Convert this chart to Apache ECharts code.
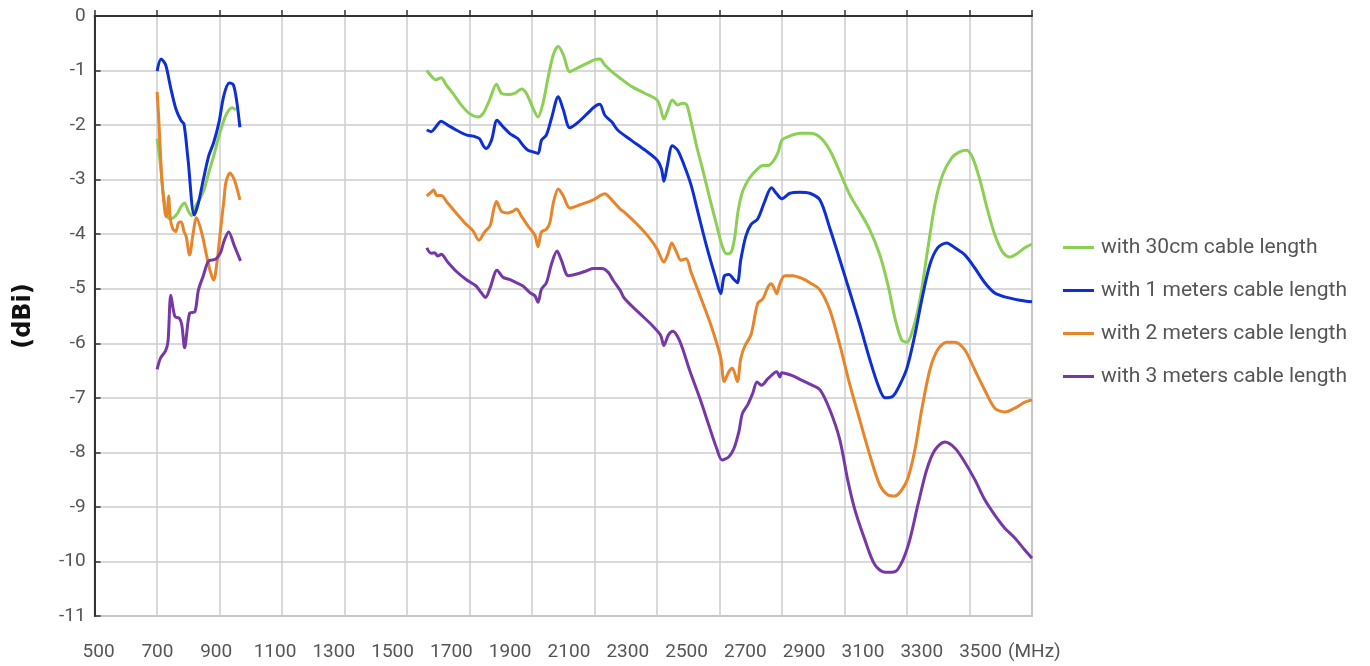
<!DOCTYPE html>
<html>
<head>
<meta charset="utf-8">
<script src="https://cdn.jsdelivr.net/npm/echarts@6/dist/echarts.min.js"></script>
<style>
html,body{margin:0;padding:0;background:#fff;}
#chart{width:1370px;height:666px;}
</style>
</head>
<body>
<div id="chart"></div>
<script>
// ---- data (frequency MHz, gain dBi) ----
const tickLabels = [500, 700, 900, 1100, 1300, 1500, 1700, 1900, 2100, 2300, 2500, 2700, 2900, 3100, 3300, 3500];
const unitLabel = '(MHz)';
const yAxisTitle = '(dBi)';
const seriesNames = ['with 30cm cable length', 'with 1 meters cable length', 'with 2 meters cable length', 'with 3 meters cable length'];

const cm30Low = [[700,-2.25],[709,-2.63],[716,-3.05],[722,-3.35],[730,-3.62],[740,-3.72],[752,-3.7],[765,-3.62],[776,-3.5],[788,-3.43],[800,-3.58],[810,-3.66],[822,-3.5],[835,-3.37],[850,-3.19],[865,-2.88],[881,-2.57],[898,-2.2],[920,-1.82],[940,-1.68],[952,-1.72]];
const cm30High = [[1563,-1.0],[1582,-1.13],[1592,-1.17],[1609,-1.13],[1625,-1.26],[1647,-1.42],[1673,-1.63],[1700,-1.79],[1727,-1.85],[1743,-1.79],[1764,-1.54],[1786,-1.25],[1802,-1.42],[1823,-1.44],[1844,-1.42],[1866,-1.34],[1882,-1.42],[1903,-1.69],[1919,-1.85],[1935,-1.6],[1951,-1.14],[1968,-0.71],[1984,-0.56],[2000,-0.71],[2021,-1.02],[2043,-0.96],[2075,-0.87],[2101,-0.8],[2117,-0.79],[2133,-0.9],[2155,-1.02],[2182,-1.14],[2218,-1.29],[2262,-1.42],[2300,-1.54],[2311,-1.69],[2322,-1.89],[2333,-1.75],[2349,-1.54],[2366,-1.63],[2382,-1.6],[2395,-1.63],[2409,-1.94],[2426,-2.37],[2448,-2.86],[2469,-3.35],[2491,-3.84],[2508,-4.21],[2522,-4.36],[2537,-4.33],[2548,-4.08],[2559,-3.59],[2573,-3.23],[2595,-2.98],[2617,-2.83],[2639,-2.74],[2655,-2.74],[2672,-2.66],[2688,-2.49],[2699,-2.28],[2725,-2.2],[2757,-2.15],[2789,-2.15],[2821,-2.22],[2853,-2.46],[2885,-2.86],[2917,-3.28],[2949,-3.59],[2981,-3.92],[3013,-4.38],[3039,-4.93],[3061,-5.53],[3083,-5.94],[3100,-5.98],[3118,-5.76],[3141,-5.21],[3166,-4.29],[3189,-3.46],[3214,-2.91],[3243,-2.6],[3268,-2.49],[3291,-2.46],[3310,-2.6],[3333,-3.0],[3358,-3.56],[3381,-4.01],[3406,-4.33],[3429,-4.42],[3454,-4.35],[3477,-4.25],[3500,-4.18]];

const m1Low = [[700,-1.01],[713,-0.79],[727,-0.89],[744,-1.33],[760,-1.7],[777,-1.92],[786,-1.98],[799,-2.63],[819,-3.65],[832,-3.43],[848,-3.0],[865,-2.57],[881,-2.32],[898,-1.95],[914,-1.45],[931,-1.23],[944,-1.26],[955,-1.57],[965,-2.04]];
const m1High = [[1563,-2.09],[1577,-2.12],[1590,-2.05],[1609,-1.93],[1630,-2.0],[1657,-2.09],[1689,-2.18],[1716,-2.21],[1732,-2.25],[1743,-2.37],[1753,-2.43],[1770,-2.28],[1788,-1.91],[1807,-2.03],[1828,-2.15],[1844,-2.21],[1855,-2.25],[1871,-2.37],[1887,-2.46],[1903,-2.49],[1919,-2.52],[1930,-2.28],[1946,-2.18],[1962,-1.88],[1984,-1.48],[2000,-1.72],[2021,-2.05],[2043,-1.97],[2075,-1.8],[2101,-1.66],[2117,-1.62],[2133,-1.82],[2155,-1.94],[2174,-2.09],[2218,-2.28],[2262,-2.46],[2300,-2.64],[2314,-2.8],[2322,-3.03],[2333,-2.74],[2349,-2.38],[2366,-2.46],[2387,-2.74],[2409,-3.1],[2431,-3.6],[2458,-4.21],[2486,-4.77],[2504,-5.09],[2515,-4.77],[2530,-4.74],[2546,-4.83],[2557,-4.89],[2568,-4.47],[2584,-4.04],[2601,-3.82],[2622,-3.72],[2644,-3.41],[2666,-3.15],[2683,-3.26],[2699,-3.35],[2725,-3.25],[2757,-3.23],[2789,-3.25],[2821,-3.37],[2853,-3.89],[2885,-4.47],[2917,-5.06],[2949,-5.66],[2981,-6.3],[3007,-6.76],[3030,-7.0],[3055,-6.97],[3077,-6.76],[3100,-6.45],[3125,-5.85],[3147,-5.21],[3173,-4.56],[3198,-4.25],[3227,-4.16],[3253,-4.25],[3285,-4.38],[3317,-4.62],[3349,-4.89],[3381,-5.08],[3413,-5.15],[3461,-5.21],[3500,-5.24]];

const m2Low = [[700,-1.39],[705,-1.85],[710,-2.44],[716,-3.06],[722,-3.43],[728,-3.68],[733,-3.6],[737,-3.3],[742,-3.7],[750,-3.9],[760,-3.95],[768,-3.8],[777,-3.77],[786,-3.95],[793,-4.04],[804,-4.38],[815,-4.0],[826,-3.7],[843,-3.98],[859,-4.41],[870,-4.68],[881,-4.84],[892,-4.5],[903,-3.92],[914,-3.37],[920,-3.06],[933,-2.88],[947,-3.0],[965,-3.37]];
const m2High = [[1563,-3.3],[1575,-3.24],[1585,-3.19],[1595,-3.29],[1609,-3.29],[1630,-3.43],[1657,-3.61],[1684,-3.79],[1711,-3.94],[1730,-4.11],[1748,-3.96],[1766,-3.84],[1777,-3.55],[1786,-3.4],[1802,-3.58],[1823,-3.61],[1839,-3.58],[1850,-3.54],[1866,-3.67],[1887,-3.85],[1909,-4.02],[1919,-4.23],[1930,-3.96],[1946,-3.91],[1957,-3.79],[1968,-3.43],[1984,-3.17],[2000,-3.3],[2021,-3.52],[2053,-3.46],[2096,-3.37],[2133,-3.26],[2150,-3.34],[2182,-3.54],[2196,-3.6],[2240,-3.84],[2273,-4.05],[2300,-4.27],[2322,-4.51],[2335,-4.36],[2347,-4.16],[2360,-4.3],[2377,-4.48],[2393,-4.45],[2409,-4.7],[2437,-5.12],[2469,-5.61],[2491,-6.0],[2504,-6.27],[2515,-6.7],[2530,-6.52],[2541,-6.46],[2557,-6.7],[2568,-6.28],[2581,-6.05],[2601,-5.84],[2622,-5.27],[2639,-5.18],[2655,-4.97],[2666,-4.91],[2683,-5.09],[2693,-4.91],[2709,-4.76],[2735,-4.76],[2767,-4.82],[2789,-4.89],[2821,-5.02],[2853,-5.39],[2885,-6.03],[2917,-6.76],[2949,-7.41],[2981,-8.05],[3013,-8.6],[3039,-8.78],[3061,-8.8],[3083,-8.69],[3103,-8.47],[3125,-7.96],[3147,-7.22],[3173,-6.49],[3198,-6.12],[3227,-5.98],[3253,-5.98],[3285,-6.12],[3317,-6.49],[3349,-6.86],[3381,-7.19],[3413,-7.26],[3445,-7.19],[3477,-7.08],[3500,-7.04]];

const m3Low = [[700,-6.48],[711,-6.27],[727,-6.14],[735,-5.96],[744,-5.12],[757,-5.51],[771,-5.54],[779,-5.66],[788,-6.08],[804,-5.45],[821,-5.42],[832,-5.03],[848,-4.76],[865,-4.49],[887,-4.46],[903,-4.34],[914,-4.13],[929,-3.96],[947,-4.21],[967,-4.49]];
const m3High = [[1563,-4.25],[1577,-4.35],[1588,-4.34],[1598,-4.4],[1609,-4.37],[1630,-4.51],[1657,-4.68],[1689,-4.83],[1721,-4.95],[1737,-5.07],[1751,-5.16],[1766,-4.98],[1788,-4.66],[1807,-4.79],[1828,-4.83],[1850,-4.89],[1871,-4.95],[1893,-5.07],[1909,-5.13],[1919,-5.25],[1930,-5.01],[1946,-4.89],[1962,-4.55],[1980,-4.31],[1994,-4.48],[2016,-4.76],[2043,-4.73],[2075,-4.67],[2096,-4.63],[2123,-4.63],[2144,-4.7],[2160,-4.85],[2182,-5.03],[2196,-5.18],[2240,-5.43],[2284,-5.67],[2311,-5.85],[2322,-6.04],[2336,-5.85],[2351,-5.78],[2366,-5.88],[2382,-6.1],[2404,-6.49],[2437,-7.01],[2469,-7.56],[2491,-7.93],[2508,-8.14],[2530,-8.08],[2546,-7.93],[2562,-7.62],[2573,-7.29],[2590,-7.13],[2606,-6.92],[2620,-6.71],[2634,-6.77],[2655,-6.65],[2683,-6.52],[2693,-6.62],[2699,-6.54],[2731,-6.59],[2764,-6.68],[2789,-6.75],[2821,-6.85],[2853,-7.22],[2885,-7.77],[2910,-8.5],[2933,-9.05],[2965,-9.6],[2997,-10.06],[3030,-10.2],[3061,-10.19],[3087,-9.97],[3109,-9.6],[3135,-8.96],[3163,-8.32],[3189,-7.96],[3221,-7.81],[3253,-7.92],[3285,-8.18],[3317,-8.5],[3349,-8.87],[3381,-9.15],[3413,-9.39],[3445,-9.57],[3477,-9.79],[3500,-9.94]];

// ---- styling ----
const colors = ['#8bcf55', '#0d2fd3', '#e8842a', '#7538a6'];
const FONT = 'Roboto, "DejaVu Sans", sans-serif';
const GAP = [1250, '-']; // missing value between bands -> line break

function join(low, high) { return low.concat([GAP], high); }
const seriesData = [join(cm30Low, cm30High), join(m1Low, m1High), join(m2Low, m2High), join(m3Low, m3High)];

const chart = echarts.init(document.getElementById('chart'), null, { renderer: 'canvas' });
chart.setOption({
  animation: false,
  backgroundColor: '#ffffff',
  grid: { left: 94.6, right: 338, top: 16, bottom: 50, show: true, borderColor: '#9a9a9a', borderWidth: 1.5 },
  legend: {
    data: seriesNames, orient: 'vertical', left: 1063, top: 237, padding: 0, itemGap: 22,
    icon: 'rect', itemWidth: 31, itemHeight: 3,
    textStyle: { fontFamily: FONT, fontSize: 21, color: '#555', lineHeight: 20, padding: [0, 0, 0, 2] }
  },
  xAxis: [
    {
      type: 'value', min: 500, max: 3500, interval: 200,
      axisLine: { show: true, lineStyle: { color: '#333', width: 2 } },
      axisTick: { show: true, inside: true, length: 6, lineStyle: { color: '#333', width: 1.5 } },
      axisLabel: { show: false },
      splitLine: { show: true, lineStyle: { color: '#cccccc', width: 1.5 } }
    },
    {
      type: 'value', min: 486.4, max: 3675, position: 'bottom', offset: 36,
      axisLine: { show: false }, axisTick: { show: false }, splitLine: { show: false },
      axisLabel: { show: true, customValues: tickLabels, margin: 0, verticalAlign: 'middle',
        formatter: v => String(v),
        fontFamily: FONT, fontSize: 19, color: '#555' },
      name: unitLabel, nameLocation: 'end', nameGap: -24,
      nameTextStyle: { fontFamily: FONT, fontSize: 19, color: '#555', verticalAlign: 'middle' }
    }
  ],
  yAxis: {
    type: 'value', min: -11, max: 0, interval: 1,
    axisLine: { show: true, lineStyle: { color: '#333', width: 2 } },
    axisTick: { show: true, inside: true, length: 6, lineStyle: { color: '#333', width: 1.5 } },
    axisLabel: { margin: 9, fontFamily: FONT, fontSize: 19, color: '#555', formatter: v => String(v) },
    splitLine: { show: true, lineStyle: { color: '#cccccc', width: 1.5 } },
    name: yAxisTitle, nameLocation: 'middle', nameRotate: 90, nameGap: 59,
    nameTextStyle: { fontFamily: '"DejaVu Sans", sans-serif', fontSize: 24, fontWeight: 'bold', color: '#111' }
  },
  series: seriesNames.map((n, i) => ({
    name: n, type: 'line', xAxisIndex: 0, data: seriesData[i],
    symbol: 'none', smooth: 0.3, connectNulls: false,
    itemStyle: { color: colors[i] },
    lineStyle: { color: colors[i], width: 3 }
  }))
});
</script>
</body>
</html>
